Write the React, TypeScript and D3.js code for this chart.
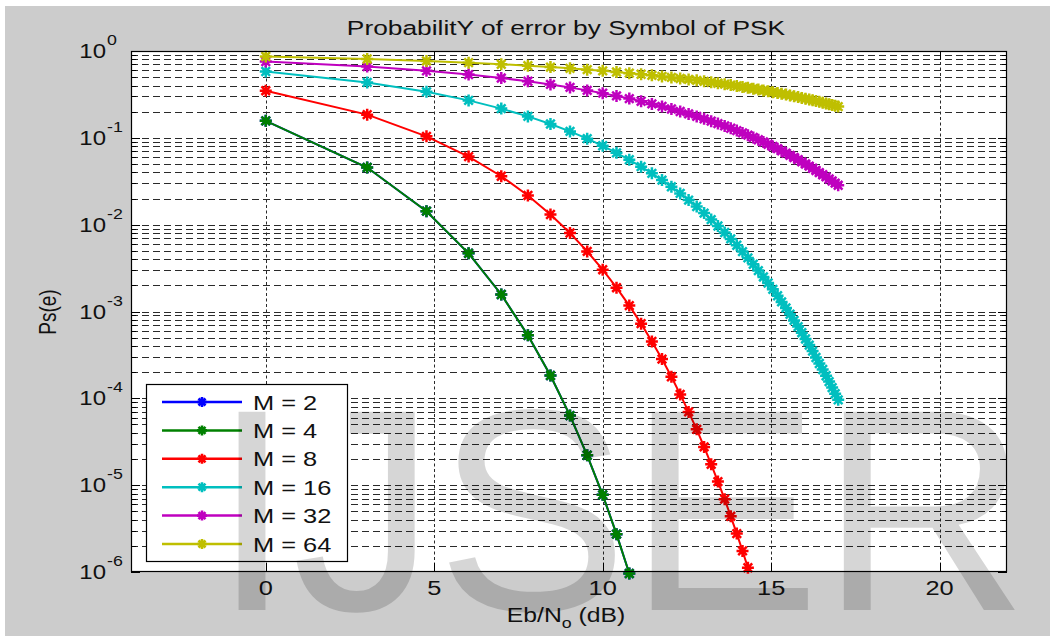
import React, { useEffect, useRef } from 'react';
import * as d3 from 'd3';

// Eb/No in dB (10*log10 of 1..50)
const ebNoDb = [0, 3.01, 4.77, 6.02, 6.99, 7.78, 8.45, 9.03, 9.54, 10, 10.41, 10.79, 11.14, 11.46, 11.76,
  12.04, 12.3, 12.55, 12.79, 13.01, 13.22, 13.42, 13.62, 13.8, 13.98, 14.15, 14.31, 14.47, 14.62, 14.77,
  14.91, 15.05, 15.19, 15.31, 15.44, 15.56, 15.68, 15.8, 15.91, 16.02, 16.13, 16.23, 16.33, 16.43, 16.53,
  16.63, 16.72, 16.81, 16.9, 16.99];

const psM2 = [0.157, 0.0455, 0.0143, 0.00468, 0.00157, 5.32e-4, 1.83e-4, 6.33e-5, 2.21e-5, 7.74e-6, 2.73e-6, 9.6e-7];
const psM4 = [0.157, 0.0455, 0.0143, 0.00468, 0.00157, 5.32e-4, 1.83e-4, 6.33e-5, 2.21e-5, 7.74e-6, 2.73e-6, 9.6e-7];
const psM8 = [0.349, 0.185, 0.104, 0.0608, 0.0361, 0.0217, 0.0131, 0.00802, 0.00492, 0.00303, 0.00188, 0.00117,
  7.25e-4, 4.52e-4, 2.83e-4, 1.77e-4, 1.11e-4, 6.98e-5, 4.4e-5, 2.76e-5, 1.74e-5, 1.1e-5, 6.9e-6, 4.38e-6,
  2.77e-6, 1.75e-6, 1.12e-6];
const psM16 = [0.581, 0.435, 0.339, 0.27, 0.217, 0.1765, 0.1443, 0.1186, 0.0979, 0.081, 0.0672, 0.0559, 0.0466,
  0.039, 0.0326, 0.0273, 0.0229, 0.0192, 0.0162, 0.0136, 0.01145, 0.00966, 0.00813, 0.00686, 0.0058, 0.0049,
  0.00414, 0.0035, 0.00296, 0.0025, 0.00213, 0.0018, 0.00152, 0.00129, 0.0011, 9.3e-4, 7.9e-4, 6.7e-4, 5.7e-4,
  4.83e-4, 4.1e-4, 3.5e-4, 2.95e-4, 2.52e-4, 2.15e-4, 1.82e-4, 1.56e-4, 1.33e-4, 1.13e-4, 9.6e-5];
const psM32 = [0.757, 0.661, 0.591, 0.535, 0.488, 0.448, 0.412, 0.381, 0.352, 0.327, 0.304, 0.283, 0.264, 0.246,
  0.23, 0.215, 0.201, 0.1885, 0.1766, 0.1656, 0.1555, 0.146, 0.1371, 0.1288, 0.1212, 0.114, 0.1073, 0.101, 0.0951,
  0.0896, 0.0844, 0.0795, 0.075, 0.0707, 0.0667, 0.0629, 0.0594, 0.0561, 0.0529, 0.05, 0.0472, 0.0446, 0.0421,
  0.0398, 0.0376, 0.0355, 0.0336, 0.0318, 0.0301, 0.0284];
const psM64 = [0.865, 0.81, 0.768, 0.734, 0.704, 0.677, 0.653, 0.631, 0.61, 0.591, 0.573, 0.556, 0.54, 0.525,
  0.51, 0.4965, 0.483, 0.471, 0.459, 0.447, 0.436, 0.425, 0.415, 0.405, 0.395, 0.386, 0.377, 0.368, 0.36, 0.352,
  0.344, 0.336, 0.329, 0.322, 0.315, 0.308, 0.301, 0.295, 0.288, 0.282, 0.276, 0.271, 0.265, 0.26, 0.254, 0.249,
  0.244, 0.239, 0.234, 0.229];

const seriesLabels = ['M = 2', 'M = 4', 'M = 8', 'M = 16', 'M = 32', 'M = 64'];
const seriesColors = ['#0000ff', '#008000', '#ff0000', '#00bfbf', '#bf00bf', '#bfbf00'];
const seriesValues = [psM2, psM4, psM8, psM16, psM32, psM64];

const xTicks = [0, 5, 10, 15, 20];
const yTickExps = [0, -1, -2, -3, -4, -5, -6];

const FONT = '"Liberation Sans", Arial, Helvetica, sans-serif';
const SX = 1.27; // the original picture is stretched horizontally

const star = 'M-6,0H6M0,-6V6M-4.3,-4.3L4.3,4.3M-4.3,4.3L4.3,-4.3';
const smallStar = 'M-5,0H5M0,-5V5M-3.5,-3.5L3.5,3.5M-3.5,3.5L3.5,-3.5';

const App = () => {
  const ref = useRef(null);

  useEffect(() => {
    const svg = d3.select(ref.current);
    svg.selectAll('*').remove();

    const left = 131, top = 51, right = 1007, bottom = 572;
    const x = d3.scaleLinear().domain([-4, 22]).range([left, right]);
    const y = d3.scaleLog().domain([1e-6, 1]).range([bottom, top]);

    svg.append('rect').attr('width', 1054).attr('height', 639).attr('fill', '#ffffff');
    svg.append('rect').attr('x', 5).attr('y', 6).attr('width', 1045).attr('height', 630).attr('fill', '#cccccc');
    svg.append('rect').attr('x', left).attr('y', top).attr('width', right - left).attr('height', bottom - top)
      .attr('fill', '#ffffff');

    // grid
    const minor = [];
    yTickExps.slice(1).forEach(e => {
      for (let m = 2; m <= 9; m++) minor.push(m * Math.pow(10, e));
    });
    const majorY = yTickExps.map(e => Math.pow(10, e));
    const grid = svg.append('g').attr('stroke', '#2a2a2a').attr('stroke-width', 1);
    [...minor, ...majorY.slice(1, -1)].forEach(v => {
      grid.append('line').attr('x1', left).attr('x2', right)
        .attr('y1', Math.round(y(v)) + 0.5).attr('y2', Math.round(y(v)) + 0.5)
        .attr('stroke-dasharray', '7,4');
    });
    xTicks.forEach(t => {
      grid.append('line').attr('x1', Math.round(x(t)) + 0.5).attr('x2', Math.round(x(t)) + 0.5)
        .attr('y1', top).attr('y2', bottom).attr('stroke-dasharray', '3,2.5');
    });

    // ticks
    const tk = svg.append('g').attr('stroke', '#000').attr('stroke-width', 1);
    xTicks.forEach(t => {
      const px = Math.round(x(t)) + 0.5;
      tk.append('line').attr('x1', px).attr('x2', px).attr('y1', bottom).attr('y2', bottom - 9);
      tk.append('line').attr('x1', px).attr('x2', px).attr('y1', top).attr('y2', top + 9);
    });
    majorY.forEach(v => {
      const py = Math.round(y(v)) + 0.5;
      tk.append('line').attr('x1', left).attr('x2', left + 9).attr('y1', py).attr('y2', py);
      tk.append('line').attr('x1', right).attr('x2', right - 9).attr('y1', py).attr('y2', py);
    });
    minor.forEach(v => {
      const py = Math.round(y(v)) + 0.5;
      tk.append('line').attr('x1', left).attr('x2', left + 5).attr('y1', py).attr('y2', py);
      tk.append('line').attr('x1', right).attr('x2', right - 5).attr('y1', py).attr('y2', py);
    });

    // series
    const line = d3.line().x((d, i) => x(ebNoDb[i])).y(d => y(d));
    seriesValues.forEach((vals, si) => {
      const g = svg.append('g');
      g.append('path').attr('d', line(vals)).attr('fill', 'none')
        .attr('stroke', seriesColors[si]).attr('stroke-width', 2);
      vals.forEach((v, i) => {
        g.append('path').attr('d', star)
          .attr('transform', `translate(${x(ebNoDb[i])},${y(v)})`)
          .attr('stroke', seriesColors[si]).attr('stroke-width', 2.5).attr('fill', 'none');
      });
    });

    // frame
    svg.append('rect').attr('x', left + 0.5).attr('y', top + 0.5)
      .attr('width', right - left - 1).attr('height', bottom - top - 1)
      .attr('fill', 'none').attr('stroke', '#000').attr('stroke-width', 1.2);

    // axis labels
    const txt = svg.append('g').attr('font-family', FONT).attr('fill', '#111');
    xTicks.forEach(t => {
      txt.append('text').attr('transform', `translate(${x(t)},595) scale(${SX},1)`)
        .attr('text-anchor', 'middle').attr('font-size', 20).text(t);
    });
    yTickExps.forEach(e => {
      const py = y(Math.pow(10, e));
      txt.append('text').attr('transform', `translate(106,${py + 7}) scale(1.2,1)`)
        .attr('text-anchor', 'end').attr('font-size', 20).text('10');
      txt.append('text').attr('transform', `translate(107,${py - 6}) scale(${SX},1)`)
        .attr('font-size', 14).text(e);
    });

    txt.append('text').attr('transform', `translate(566,35) scale(1.35,1)`)
      .attr('text-anchor', 'middle').attr('font-size', 19.5).text('ProbabilitY of error by Symbol of PSK');

    const xl = txt.append('text').attr('transform', `translate(566,622) scale(${SX},1)`)
      .attr('text-anchor', 'middle').attr('font-size', 19.5);
    xl.append('tspan').text('Eb/N');
    xl.append('tspan').attr('dy', 6).attr('font-size', 14).text('o');
    xl.append('tspan').attr('dy', -6).text(' (dB)');

    txt.append('text').attr('transform', `translate(56,312) rotate(-90) scale(1,${SX})`)
      .attr('text-anchor', 'middle').attr('font-size', 19).text('Ps(e)');

    // legend
    const lg = svg.append('g');
    lg.append('rect').attr('x', 146.5).attr('y', 384.5).attr('width', 201).attr('height', 177)
      .attr('fill', '#fff').attr('stroke', '#000').attr('stroke-width', 1.2);
    seriesLabels.forEach((lab, i) => {
      const ly = 402 + i * 28.4;
      lg.append('line').attr('x1', 162).attr('x2', 242).attr('y1', ly).attr('y2', ly)
        .attr('stroke', seriesColors[i]).attr('stroke-width', 2.5);
      lg.append('path').attr('d', smallStar).attr('transform', `translate(202,${ly})`)
        .attr('stroke', seriesColors[i]).attr('stroke-width', 2.6).attr('fill', 'none');
      lg.append('text').attr('transform', `translate(253,${ly + 7.5}) scale(${SX},1)`)
        .attr('font-family', FONT).attr('font-size', 20).attr('fill', '#111').text(lab);
    });

    // watermark
    svg.append('text').attr('x', 212).attr('y', 610).attr('font-family', FONT).attr('font-size', 288)
      .attr('fill', '#000').attr('fill-opacity', 0.16).text('IJSER');
  }, []);

  return (
    <div style={{ position: 'absolute', left: 0, top: 0 }}>
      <svg ref={ref} width="1054" height="639"></svg>
    </div>
  );
};

export default App;
